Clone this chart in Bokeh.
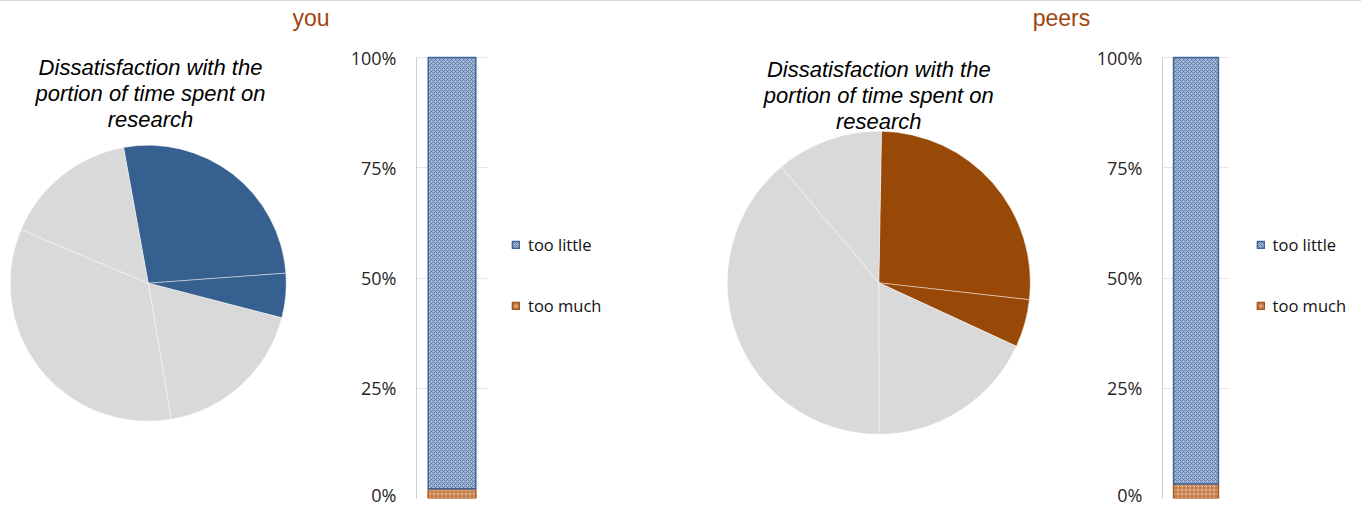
import numpy as np
from bokeh.plotting import figure
from bokeh.models import (Range1d, FixedTicker, PrintfTickFormatter, Legend,
                          LegendItem, Div, ColumnDataSource)
from bokeh.layouts import row, column
from bokeh.core.properties import value
from bokeh.embed import file_html
from bokeh.resources import INLINE

# ---- data ---------------------------------------------------------------
groups = ["you", "peers"]
chart_title = ["Dissatisfaction with the", "portion of time spent on", "research"]

# pie slices (percent of respondents), the first two slices are highlighted
pie_you = [26.7, 5.2, 18.3, 34.0, 15.8]
pie_peers = [26.5, 5.1, 18.1, 38.9, 11.4]
pie_first_angle = [-10.3, 1.0]          # degrees clockwise from 12 o'clock

# stacked answer bar (percent)
answer_labels = ["too little", "too much"]
too_little = [97.8, 96.7]
too_much = [2.2, 3.3]
tick_values = [0, 25, 50, 75, 100]

# ---- styling / geometry -------------------------------------------------
HIGHLIGHT = ["#36608F", "#984807"]
GREY = "#D9D9D9"
TITLE_COLOR = "#A0450E"
H = 505                      # figure height (a 1px rule sits above the row)
BOTTOM = 8
FRAME_TOP = 1                # page row where every frame starts
FRAME_BOTTOM = 1 + H - BOTTOM
AXIS_TOP = 57                # page row of the 100% line
BAR_YMAX = 100.0 * (FRAME_BOTTOM - FRAME_TOP) / (FRAME_BOTTOM - AXIS_TOP)
TICK_FONT = "Open Sans"

LITTLE_STYLE = dict(fill_color="#A4B7D4", hatch_pattern="diagonal_cross",
                    hatch_color="#4369A0", hatch_scale=4, hatch_weight=0.9,
                    hatch_alpha=0.8, line_color="#3F6597", line_width=1.5)
MUCH_STYLE = dict(fill_color="#DFA981", hatch_pattern="cross",
                  hatch_color="#A9561E", hatch_scale=4, hatch_weight=0.9,
                  hatch_alpha=0.75, line_color="#A5521B", line_width=1.5)


def ypix(page_y):
    """Page pixel row -> pie figure data coordinate (1 unit = 1 px)."""
    return FRAME_BOTTOM - page_y


def base_figure(width, x_range, y_range, left=0, with_y_axis=False):
    p = figure(width=width, height=H, x_range=x_range, y_range=y_range,
               output_backend="svg", toolbar_location=None,
               x_axis_location=None,
               y_axis_location="left" if with_y_axis else None,
               min_border_left=left, min_border_right=0,
               min_border_top=0, min_border_bottom=BOTTOM)
    p.outline_line_color = None
    p.xgrid.visible = False
    if not with_y_axis:
        p.ygrid.visible = False
    return p


def pie_panel(i, width, cx, cy, radius, title_x, title_base, group_x):
    p = base_figure(width, Range1d(0, width),
                    Range1d(0, FRAME_BOTTOM - FRAME_TOP))

    vals = np.array(pie_you if i == 0 else pie_peers, dtype=float)
    deg = vals / vals.sum() * 360.0
    ends = pie_first_angle[i] + np.cumsum(deg)
    starts = ends - deg
    colors = [HIGHLIGHT[i]] * 2 + [GREY] * (len(vals) - 2)
    src = ColumnDataSource(dict(start=np.radians(90.0 - starts),
                                end=np.radians(90.0 - ends), color=colors))
    p.wedge(x=cx, y=ypix(cy), radius=radius, start_angle="start",
            end_angle="end", direction="clock", fill_color="color",
            line_color="white", line_width=0.8, line_alpha=0.55, source=src)

    p.text(x=[title_x] * 3, y=[ypix(title_base + k * 25.8) for k in range(3)],
           text=chart_title, text_align="center", text_baseline="alphabetic",
           text_font=value("Liberation Sans"), text_font_style="italic",
           text_font_size="22px", text_color="#000000")

    p.text(x=[group_x], y=[ypix(17.5)], text=[groups[i]], text_align="center",
           text_baseline="alphabetic", text_font=value("Liberation Sans"),
           text_font_size="23px", text_color=TITLE_COLOR)
    return p


def stack_source(i):
    return ColumnDataSource(dict(x=[0.5], much_top=[too_much[i]],
                                 little_top=[too_much[i] + too_little[i]]))


def draw_stack(p, src):
    r_much = p.vbar(x="x", bottom=0, top="much_top", width=0.67, source=src,
                    **MUCH_STYLE)
    r_little = p.vbar(x="x", bottom="much_top", top="little_top", width=0.67,
                      source=src, **LITTLE_STYLE)
    return r_little, r_much


def bar_panel(i, width, left_border):
    p = base_figure(width, Range1d(0, 1), Range1d(0, BAR_YMAX),
                    left=left_border, with_y_axis=True)
    p.ygrid.ticker = FixedTicker(ticks=tick_values)
    p.ygrid.grid_line_color = "#E6E6E6"

    ax = p.yaxis[0]
    ax.bounds = (0, 100)
    ax.ticker = FixedTicker(ticks=tick_values)
    ax.formatter = PrintfTickFormatter(format="%d%%")
    ax.axis_line_color = "#CFCFCF"
    ax.major_tick_line_color = None
    ax.minor_tick_line_color = None
    ax.major_tick_out = 0
    ax.major_tick_in = 0
    ax.major_label_standoff = 20
    ax.major_label_text_font = TICK_FONT
    ax.major_label_text_font_size = "18px"
    ax.major_label_text_color = "#262626"

    draw_stack(p, stack_source(i))
    return p


def legend_panel(i, width, x_left):
    """Key for the stacked bar, drawn in its own narrow figure."""
    p = base_figure(width, Range1d(0, 1), Range1d(0, BAR_YMAX))
    r_little, r_much = draw_stack(p, stack_source(i))
    r_little.visible = False          # only their legend swatches are shown
    r_much.visible = False
    legend = Legend(items=[LegendItem(label=answer_labels[0], renderers=[r_little]),
                           LegendItem(label=answer_labels[1], renderers=[r_much])],
                    location=(x_left, FRAME_BOTTOM - 317.4), padding=10,
                    spacing=38, glyph_width=9, glyph_height=9,
                    label_height=22, label_standoff=8,
                    label_text_font=TICK_FONT, label_text_font_size="16.5px",
                    label_text_color="#111111", border_line_color=None,
                    background_fill_alpha=0)
    p.add_layout(legend)
    return p


figs = [
    pie_panel(0, 345, 147.7, 282.7, 138, 150, 67, 310.5),
    bar_panel(0, 142, 71),
    legend_panel(0, 193, 24),
    pie_panel(1, 413, 198.3, 282.3, 151.5, 198.3, 69, 381),
    bar_panel(1, 136, 68),
    legend_panel(1, 132, 26.6),
]

rule = Div(text="", width=1361, height=1, margin=0,
           styles={"background-color": "#D9D9D9"})
layout = column(rule, row(*figs, spacing=0), spacing=0)

open("out.html", "w").write(file_html(layout, INLINE))
